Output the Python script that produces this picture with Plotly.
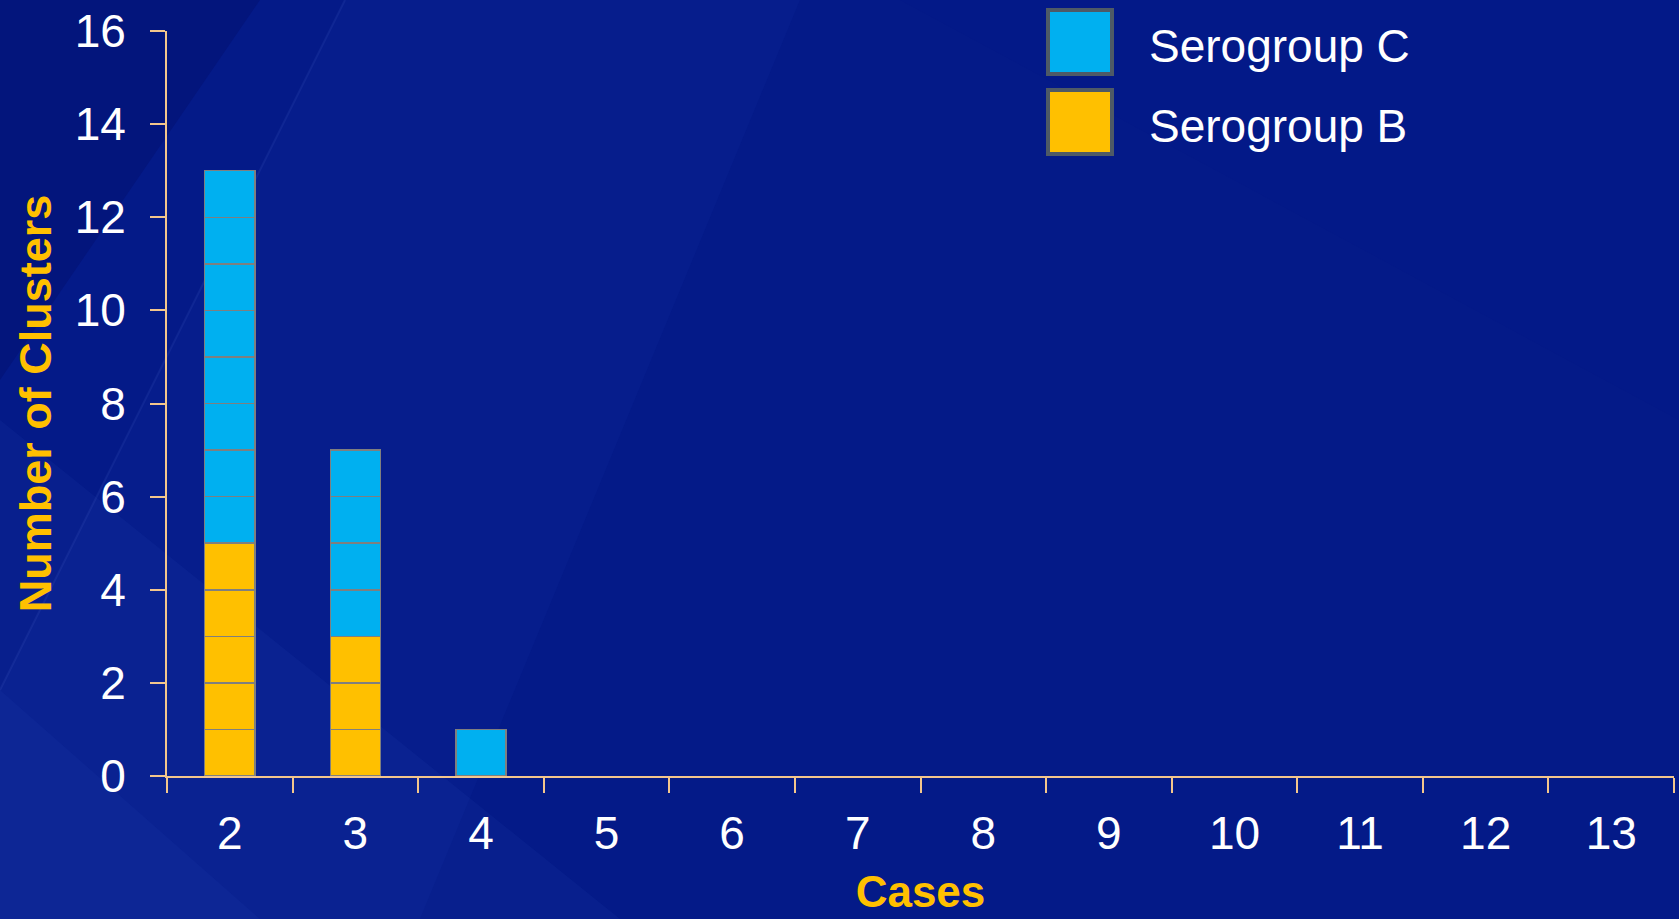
import plotly.graph_objects as go

# ---- data ----
cases = ["2", "3", "4", "5", "6", "7", "8", "9", "10", "11", "12", "13"]
serogroup_b = [5, 3, 0, 0, 0, 0, 0, 0, 0, 0, 0, 0]
serogroup_c = [8, 4, 1, 0, 0, 0, 0, 0, 0, 0, 0, 0]
series_names = ["Serogroup C", "Serogroup B"]
y_tick_vals = [0, 2, 4, 6, 8, 10, 12, 14, 16]

# ---- style ----
W, H = 1679, 919
PL, PR, PT, PB = 167, 1674, 31, 776  # plot area in pixels
GOLD = "#FFC000"
CYAN = "#00B0F0"
AXIS = "#F3C68C"
EDGE = "#7F7F7F"
FONT = "Liberation Sans, Arial, sans-serif"


def px(x):
    return (x - PL) / (PR - PL)


def py(y):
    return (PB - y) / (PB - PT)


def poly(points):
    return "M " + " L ".join(f"{px(a)},{py(b)}" for a, b in points) + " Z"


fig = go.Figure()

# each cluster is drawn as its own unit block, stacked
for name, vals, color in [(series_names[1], serogroup_b, GOLD),
                          (series_names[0], serogroup_c, CYAN)]:
    for k in range(max(vals)):
        fig.add_trace(go.Bar(
            x=cases,
            y=[1 if v > k else None for v in vals],
            name=name,
            width=0.4,
            marker=dict(color=color, line=dict(color=EDGE, width=1.5)),
            showlegend=False,
            hovertemplate=name + ": %{x}<extra></extra>",
        ))

shapes = []
# background decoration (subtle lighter diagonal bands)
bg = [
    ([(0, 0), (260, 0), (0, 380)], "rgba(0,6,80,0.22)"),
    ([(0, 919), (0, 690), (345, 0), (800, 0), (420, 919)], "rgba(50,90,200,0.06)"),
    ([(0, 919), (0, 420), (620, 919)], "rgba(60,100,210,0.08)"),
    ([(0, 919), (0, 690), (260, 919)], "rgba(70,110,215,0.06)"),
    ([(900, 0), (1679, 0), (1679, 420)], "rgba(0,20,140,0.10)"),
]
for pts, col in bg:
    shapes.append(dict(type="path", xref="paper", yref="paper", layer="below",
                       path=poly(pts), fillcolor=col, line=dict(width=0)))
shapes.append(dict(type="line", xref="paper", yref="paper", layer="below",
                   x0=px(0), y0=py(690), x1=px(345), y1=py(0),
                   line=dict(color="rgba(120,150,235,0.10)", width=2)))

# custom legend
legend_items = [(series_names[0], CYAN, 8), (series_names[1], GOLD, 88)]
annotations = []
for name, color, top in legend_items:
    shapes.append(dict(type="rect", xref="paper", yref="paper",
                       x0=px(1048), x1=px(1112), y0=py(top + 2), y1=py(top + 66),
                       fillcolor=color, line=dict(color="#4E5A66", width=4)))
    annotations.append(dict(xref="paper", yref="paper", x=px(1147), y=py(top + 38),
                            xanchor="left", yanchor="middle", text=name, showarrow=False,
                            font=dict(family=FONT, size=46, color="white")))

fig.update_layout(
    width=W, height=H,
    margin=dict(l=PL, r=W - PR, t=PT, b=H - PB, pad=0),
    barmode="stack",
    bargap=0.6,
    paper_bgcolor="#041A88",
    plot_bgcolor="rgba(0,0,0,0)",
    showlegend=False,
    font=dict(family=FONT, color="white", size=46),
    shapes=shapes,
    annotations=annotations,
)

fig.update_xaxes(
    type="category",
    categoryorder="array", categoryarray=cases,
    range=[-0.5, len(cases) - 0.5],
    tickson="boundaries",
    ticks="outside", ticklen=15, tickwidth=2, tickcolor=AXIS,
    ticklabelstandoff=16,
    showline=True, linecolor=AXIS, linewidth=2,
    showgrid=False, zeroline=False,
    tickfont=dict(family=FONT, size=46, color="white"),
    title=dict(text="<b>Cases</b>", standoff=18,
               font=dict(family=FONT, size=44, color=GOLD)),
)
fig.update_yaxes(
    range=[0, 16],
    tickvals=y_tick_vals,
    ticks="outside", ticklen=15, tickwidth=2, tickcolor=AXIS,
    ticklabelstandoff=15,
    showline=True, linecolor=AXIS, linewidth=2,
    showgrid=False, zeroline=False,
    tickfont=dict(family=FONT, size=46, color="white"),
    title=dict(text="<b>Number of Clusters</b>", standoff=9,
               font=dict(family=FONT, size=45, color=GOLD)),
)

fig.write_html("out.html")
